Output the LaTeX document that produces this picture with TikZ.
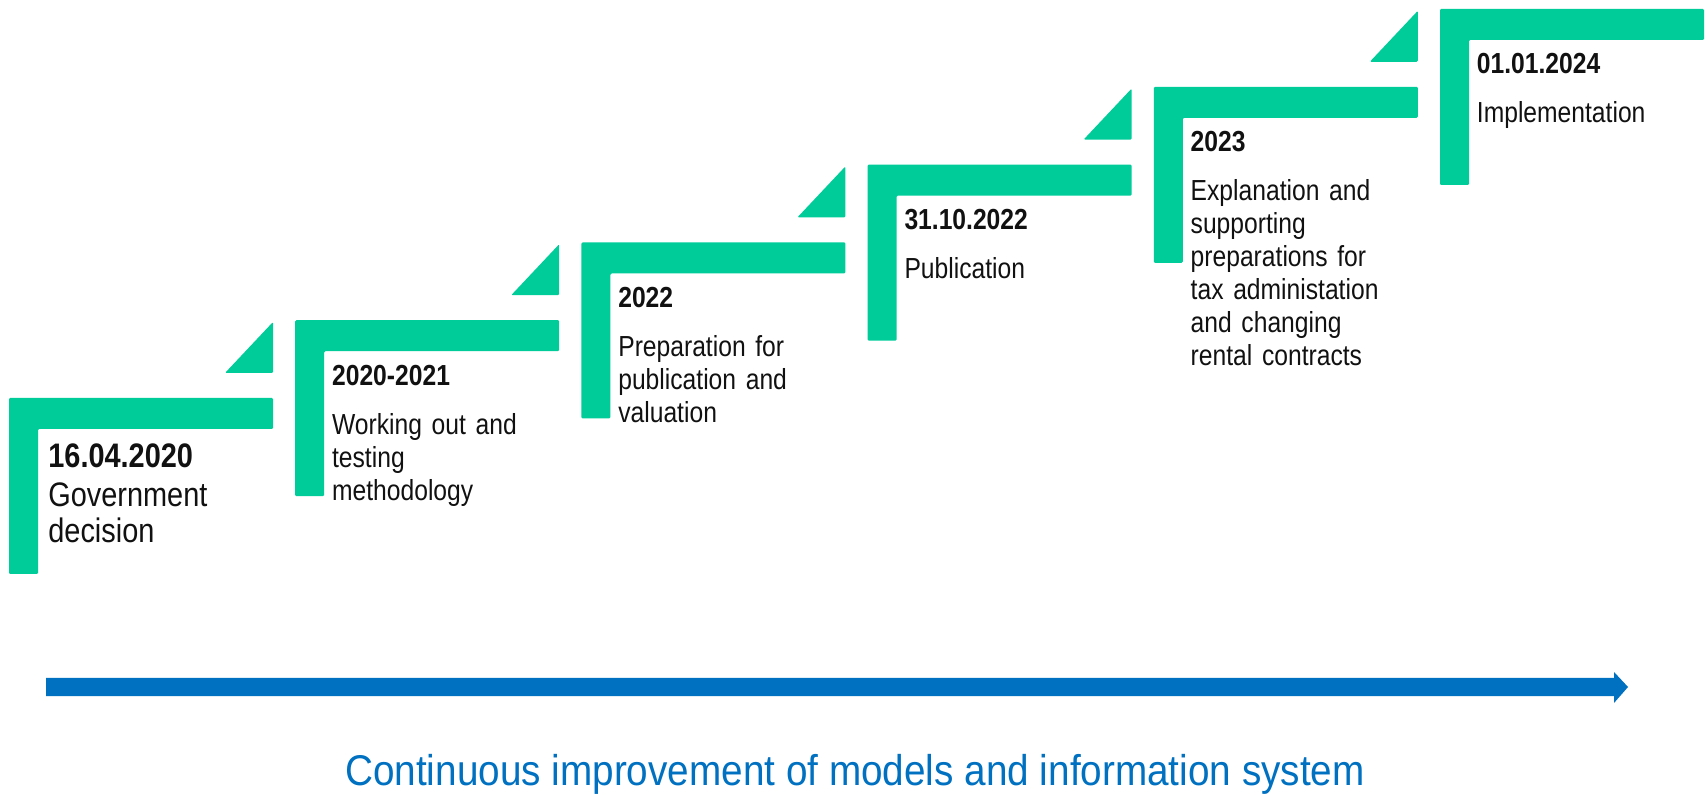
\documentclass[tikz,border=0pt]{standalone}
\usepackage{fontspec}
\setmainfont[FakeStretch=0.85]{Liberation Sans}
\newfontfamily\capfont[FakeStretch=0.9]{Liberation Sans}
\definecolor{stepgreen}{RGB}{0,204,153}
\definecolor{flowblue}{RGB}{0,112,192}
\definecolor{txt}{RGB}{17,17,17}
\begin{document}
\begin{tikzpicture}[x=0.5pt,y=-0.5pt,
  stepL/.style={fill=stepgreen,draw=none,rounded corners=0.6pt},
  steptri/.style={fill=stepgreen,draw=none,rounded corners=0.6pt},
  title/.style={anchor=base west,inner sep=0pt,text=txt,font=\bfseries\fontsize{14.5}{16.5}\selectfont},
  desc/.style={anchor=base west,inner sep=0pt,text=txt,text width=120pt,align=left,font=\fontsize{14.5}{16.5}\selectfont},
  titlebig/.style={title,font=\bfseries\fontsize{17}{18}\selectfont},
  descbig/.style={desc,font=\fontsize{17}{18}\selectfont},
  caption/.style={anchor=base,inner sep=0pt,text=flowblue,font=\capfont\fontsize{21.5}{24}\selectfont}]
\useasboundingbox (0,0) rectangle (1707,795);
% L-shaped steps
\foreach \i in {0,...,5}{
  \pgfmathsetmacro{\lx}{9+286.2*\i}
  \pgfmathsetmacro{\ty}{398-77.8*\i}
  \fill[stepL] (\lx,\ty) -- (\lx+264,\ty) -- (\lx+264,\ty+31) -- (\lx+29,\ty+31)
     -- (\lx+29,\ty+176) -- (\lx,\ty+176) -- cycle;
}
% triangles
\foreach \i in {0,...,4}{
  \pgfmathsetmacro{\lx}{9+286.2*\i}
  \pgfmathsetmacro{\ty}{398-77.8*\i}
  \fill[steptri] (\lx+264,\ty-25) -- (\lx+264,\ty-76) -- (\lx+216,\ty-25) -- cycle;
}
% texts
\node[titlebig] (t1) at (48,468) {16.04.2020};
\node[descbig]  (d1) at (48,507) {Government\\decision};
\node[title] (t2) at (331.7,385.2) {2020-2021};
\node[desc]  (d2) at (331.7,434.2) {Working out and\\testing\\methodology};
\node[title] (t3) at (617.9,307.4) {2022};
\node[desc]  (d3) at (617.9,356.4) {Preparation for\\publication and\\valuation};
\node[title] (t4) at (904.1,229.6) {31.10.2022};
\node[desc]  (d4) at (904.1,278.6) {Publication};
\node[title] (t5) at (1190.3,151.8) {2023};
\node[desc]  (d5) at (1190.3,200.8) {Explanation and\\supporting\\preparations for\\tax administation\\and changing\\rental contracts};
\node[title] (t6) at (1476.5,74) {01.01.2024};
\node[desc]  (d6) at (1476.5,123) {Implementation};
% blue arrow
\coordinate (as) at (46,687);
\coordinate (ae) at (1628,687);
\fill[flowblue] (46,678) -- (1614,678) -- (1614,672) -- (ae) -- (1614,703) -- (1614,696) -- (46,696) -- cycle;
\node[caption] (cap) at (855,785) {Continuous improvement of models and information system};
\end{tikzpicture}
\end{document}
